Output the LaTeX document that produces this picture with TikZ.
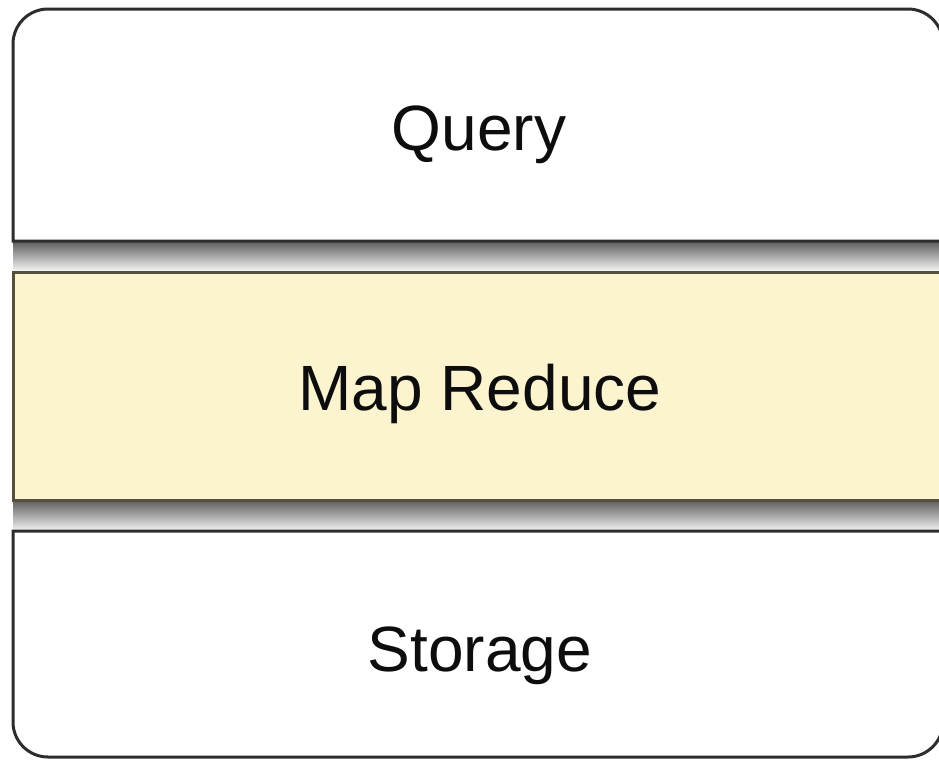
\documentclass[tikz,border=0pt]{standalone}
\usepackage{fontspec}
\setmainfont{Liberation Sans}
\definecolor{mrfill}{RGB}{252,244,206}
\definecolor{mrline}{RGB}{84,80,60}
\definecolor{boxline}{RGB}{45,45,45}

\begin{document}
\begin{tikzpicture}[x=1pt,y=-1pt,
    layer/.style={line width=3pt, draw=boxline, fill=white},
    drop/.style={top color=black!62, bottom color=black!6},
    caption/.style={anchor=base, text=black!95, font=\fontsize{64}{70}\selectfont}]
    \useasboundingbox (0,0) rectangle (939,761);
    \clip (0,0) rectangle (939,761);

    \fill[drop] (13,242) rectangle (960,270);
    \fill[drop] (13,501) rectangle (960,530);

    \draw[layer] (13,241) [rounded corners=35] -- (13,9) -- (943,9) [sharp corners] -- (943,241) -- cycle;
    \draw[layer, draw=mrline, fill=mrfill] (13,272) rectangle (960,500);
    \draw[layer] (13,531) [rounded corners=35] -- (13,757) -- (943,757) [sharp corners] -- (943,531) -- cycle;

    \node[caption] (query)   at (479,150) {Query};
    \node[caption] (mapred)  at (480,410) {Map Reduce};
    \node[caption] (storage) at (480,671) {Storage};
  \end{tikzpicture}
\end{document}
